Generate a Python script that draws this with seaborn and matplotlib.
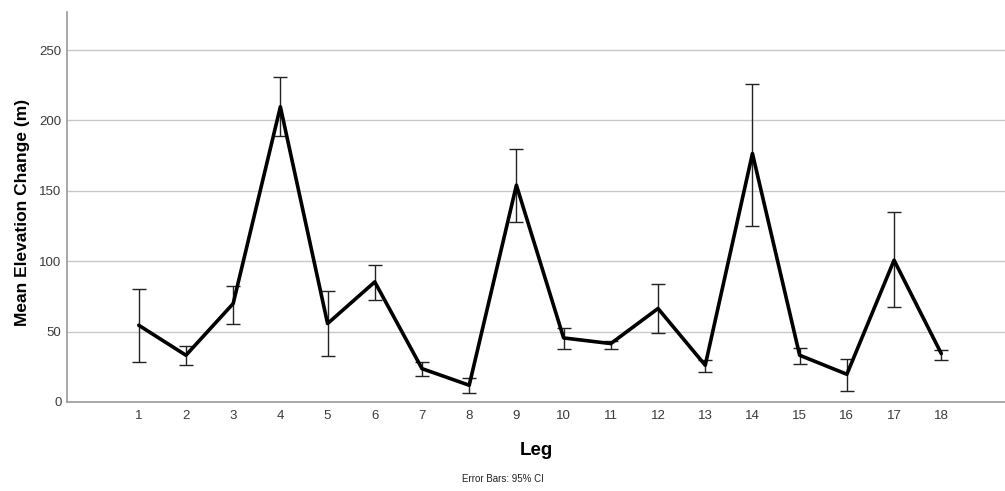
import matplotlib
matplotlib.use("Agg")
import matplotlib.pyplot as plt
import seaborn as sns
import numpy as np

# values
legs = list(range(1, 19))
mean_change = [54.5, 33.2, 69.9, 209.7, 55.7, 85.3, 23.7, 11.9, 154.0,
               45.5, 41.5, 66.4, 26.1, 176.5, 33.2, 19.7, 100.7, 34.4]
ci_upper = [80.1, 39.8, 82.4, 230.8, 78.9, 97.6, 28.2, 17.3, 179.6,
            52.6, 43.6, 83.9, 29.6, 226.0, 38.2, 30.3, 134.6, 37.2]
ci_lower = [28.4, 26.6, 55.7, 188.8, 32.5, 72.8, 18.8, 6.4, 127.5,
            37.9, 37.7, 49.0, 21.1, 125.1, 26.8, 7.8, 67.3, 30.1]

sns.set_style("white")
plt.rcParams['font.family'] = ['Liberation Sans', 'DejaVu Sans']

fig = plt.figure(figsize=(10.05, 4.91), dpi=100)
ax = fig.add_axes([67 / 1005, 1 - 402 / 491, 1 - 67 / 1005, 390 / 491])

mean_arr = np.array(mean_change)
yerr = [mean_arr - np.array(ci_lower), np.array(ci_upper) - mean_arr]

ax.errorbar(legs, mean_change, yerr=yerr, fmt="none", ecolor="#222222",
            elinewidth=1.0, capsize=5, capthick=1.0, zorder=3)
sns.lineplot(x=legs, y=mean_change, color="black", linewidth=2.6, ax=ax, zorder=4)

ax.set_xlim(-0.52, 19.35)
ax.set_ylim(0, 277)
ax.set_xticks(legs)
ax.set_yticks([0, 50, 100, 150, 200, 250])
ax.yaxis.grid(True, color="#c8c8c8", linewidth=1.0)
ax.set_axisbelow(True)

for side in ["top", "right"]:
    ax.spines[side].set_visible(False)
for side in ["left", "bottom"]:
    ax.spines[side].set_color("#9a9a9a")
    ax.spines[side].set_linewidth(1.2)

ax.tick_params(axis="both", length=0, labelsize=9.5, labelcolor="#3a3a3a")
ax.tick_params(axis="x", pad=6)
ax.tick_params(axis="y", pad=4)

ax.set_xlabel("Leg", fontsize=13.5, fontweight="bold", color="black", labelpad=14)
ax.set_ylabel("Mean Elevation Change (m)", fontsize=12.5, fontweight="bold", color="black")
ax.yaxis.set_label_coords(-0.039, 0.485)

fig.text(0.5, 1 - 479 / 491, "Error Bars: 95% CI", ha="center", va="center",
         fontsize=7, color="#222222")

fig.savefig("out.png", dpi=100)
